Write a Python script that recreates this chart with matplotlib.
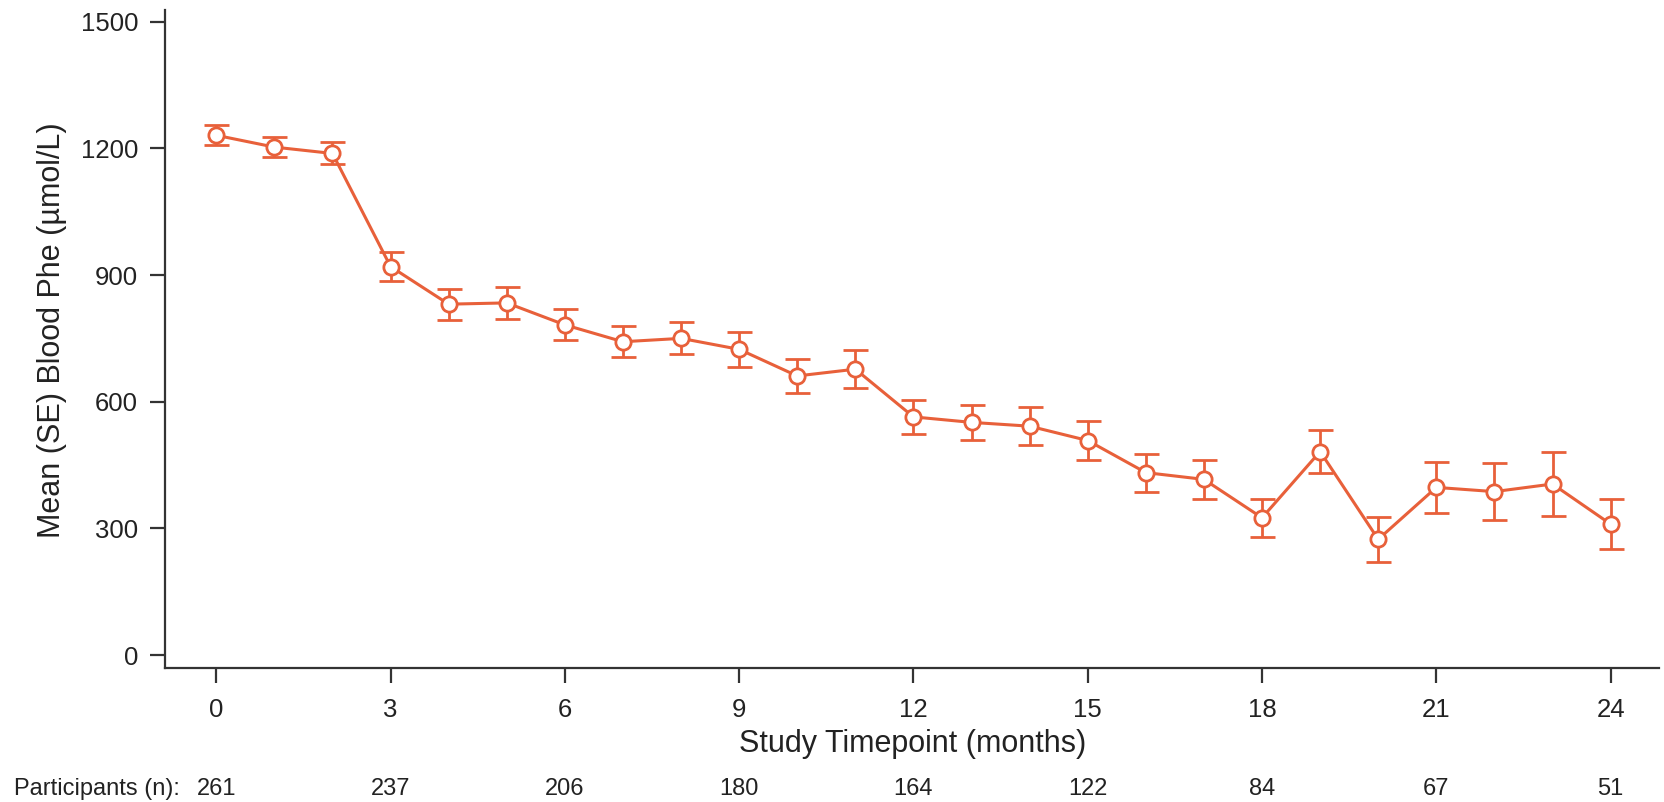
import matplotlib
matplotlib.use("Agg")
import matplotlib.pyplot as plt
import matplotlib.transforms as mtransforms

plt.rcParams['font.family'] = ['Liberation Sans', 'DejaVu Sans']

months = list(range(25))
mean_phe = [1231, 1203, 1188, 920, 831, 834, 782, 742, 750, 724, 661, 677,
            564, 551, 542, 508, 432, 416, 325, 482, 274, 397, 387, 405, 310]
se_phe = [24, 23, 26, 35, 37, 37, 37, 37, 38, 41, 41, 45,
          41, 41, 45, 47, 45, 47, 45, 50, 54, 60, 67, 75, 60]
xticks = [0, 3, 6, 9, 12, 15, 18, 21, 24]
yticks = [0, 300, 600, 900, 1200, 1500]
participants = [261, 237, 206, 180, 164, 122, 84, 67, 51]

color = '#E8603A'
axcol = '#333333'
txtcol = '#222222'

W, H = 1664, 802
fig = plt.figure(figsize=(W / 100, H / 100), dpi=100)
ax = fig.add_axes([0.0989, 0.1667, 0.898, 0.8208])

ax.errorbar(months, mean_phe, yerr=se_phe, color=color, lw=2.2,
            elinewidth=2.0, capsize=9, capthick=2.0,
            marker='o', markersize=11, markerfacecolor='white',
            markeredgecolor=color, markeredgewidth=2.0, zorder=3)

ax.set_xlim(-0.89, 24.83)
ax.set_ylim(-31.5, 1527.7)
ax.set_xticks(xticks)
ax.set_yticks(yticks)
for s in ['top', 'right']:
    ax.spines[s].set_visible(False)
for s in ['left', 'bottom']:
    ax.spines[s].set_color(axcol)
    ax.spines[s].set_linewidth(1.6)
ax.tick_params(axis='both', length=11, width=1.6, color=axcol,
               labelsize=18.5, labelcolor=txtcol)
ax.tick_params(axis='y', pad=8)
ax.tick_params(axis='x', pad=10.5)

fig.text(52 / W, 1 - 330 / H, 'Mean (SE) Blood Phe (\u00b5mol/L)', rotation=90,
         ha='center', va='center', fontsize=22, color=txtcol)
fig.text(((735 + 1090) / 2) / W, 1 - 752 / H, 'Study Timepoint (months)',
         ha='center', va='baseline', fontsize=22, color=txtcol)

trans = mtransforms.blended_transform_factory(ax.transData, fig.transFigure)
for xv, n in zip(xticks, participants):
    fig.text(xv, 1 - 795 / H, str(n), transform=trans, ha='center', va='baseline',
             fontsize=17, color=txtcol)
fig.text(180 / W, 1 - 795 / H, 'Participants (n):', ha='right', va='baseline',
         fontsize=17, color=txtcol)

fig.savefig('out.png', dpi=100, facecolor='white')
